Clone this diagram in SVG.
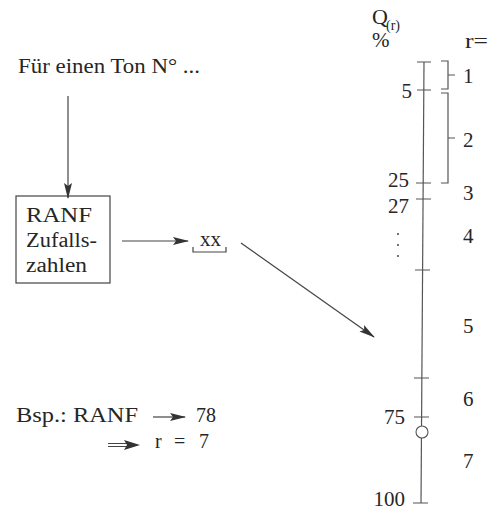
<svg xmlns="http://www.w3.org/2000/svg" width="494" height="510" viewBox="0 0 494 510">
<style>
text{font-family:"Liberation Serif","Times New Roman",serif;fill:#262626}
.t{font-size:20px}
.n{font-size:21px}
.ln{stroke:#444;stroke-width:1.2;fill:none}
.ax{stroke:#555;stroke-width:1.2;fill:none}
</style>
<defs>
<marker id="ah" markerWidth="16" markerHeight="10" refX="15" refY="5" orient="auto" markerUnits="userSpaceOnUse">
<path d="M0,1 L16,5 L0,9 L3,5 Z" fill="#333"/>
</marker>
</defs>
<rect width="494" height="510" fill="#fff"/>

<g id="start">
<text class="t" x="18" y="73" textLength="182" lengthAdjust="spacingAndGlyphs">Für einen Ton N° ...</text>
</g>

<g id="ranf">
<rect x="16" y="196" width="94" height="87" fill="none" stroke="#444" stroke-width="1.2"/>
<text class="t" x="26" y="222" font-size="22" textLength="66" lengthAdjust="spacingAndGlyphs">RANF</text>
<text class="t" x="26" y="247" font-size="22" textLength="71" lengthAdjust="spacingAndGlyphs">Zufalls-</text>
<text class="t" x="26" y="272" font-size="22" textLength="61" lengthAdjust="spacingAndGlyphs">zahlen</text>
</g>

<g id="xx">
<text class="t" x="200" y="246" font-size="21" textLength="21" lengthAdjust="spacingAndGlyphs">xx</text>
<path class="ln" d="M193,247 V252 H226 V247" stroke-width="1"/>
</g>

<g id="scale">
<text x="372" y="24" font-size="22">Q</text>
<text x="386" y="30" font-size="14">(r)</text>
<text x="372" y="47" font-size="21">%</text>
<text x="465" y="48" font-size="21" textLength="23" lengthAdjust="spacingAndGlyphs">r=</text>
<path class="ax" d="M424,62 L421,503"/>
<path class="ax" d="M417,62 H431 M417,90 H431 M416,183 H431 M416,199 H431 M415,270 H430 M414,378 H429 M414,417 H429 M413,503 H428"/>
<circle cx="422" cy="432" r="6" fill="#fff" stroke="#555" stroke-width="1.1"/>
<path class="ax" d="M441,61 H448 V89 H441 M448,75 H455"/>
<path class="ax" d="M441,93 H448 V183 H441 M448,138 H455"/>
<text class="n" x="412" y="98" text-anchor="end">5</text>
<text class="n" x="409" y="187" text-anchor="end">25</text>
<text class="n" x="409" y="213" text-anchor="end">27</text>
<text class="n" x="405" y="424" text-anchor="end">75</text>
<text class="n" x="405" y="506" text-anchor="end">100</text>
<circle cx="398" cy="234" r="1" fill="#444"/>
<circle cx="398" cy="245" r="1" fill="#444"/>
<circle cx="398" cy="256" r="1" fill="#444"/>
<text class="n" x="463" y="83">1</text>
<text class="n" x="463" y="147">2</text>
<text class="n" x="463" y="200">3</text>
<text class="n" x="463" y="243">4</text>
<text class="n" x="463" y="333">5</text>
<text class="n" x="463" y="406">6</text>
<text class="n" x="463" y="468">7</text>
</g>

<g id="example">
<text class="t" x="16" y="422" textLength="122" lengthAdjust="spacingAndGlyphs">Bsp.: RANF</text>
<text class="t" x="196" y="422" font-size="21">78</text>
<text class="t" x="155" y="448" font-size="21">r</text>
<text class="t" x="174" y="448" font-size="21">=</text>
<text class="t" x="199" y="448" font-size="21">7</text>
</g>

<g id="connectors">
<path class="ln" d="M68,96 V198" marker-end="url(#ah)"/>
<path class="ln" d="M122,241 H188" marker-end="url(#ah)"/>
<path class="ln" d="M241,243 L374,337" marker-end="url(#ah)"/>
<path class="ln" d="M153,417 H185" marker-end="url(#ah)"/>
<path class="ln" d="M108,443.5 H132 M108,446.5 H132"/>
<path d="M124,440 L140,445 L124,450 L127,445 Z" fill="#333"/>
</g>
</svg>
